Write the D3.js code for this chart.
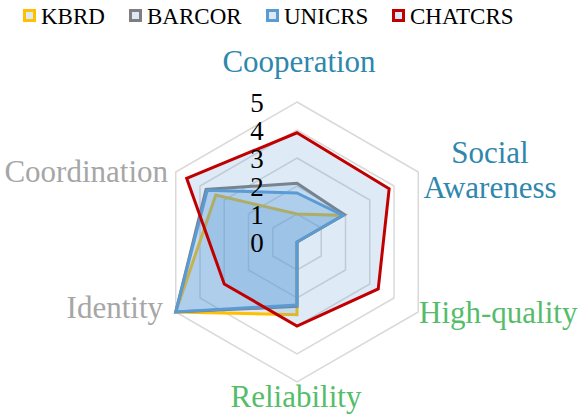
<!DOCTYPE html>
<html>
<head>
<meta charset="utf-8">
<script src="https://cdn.jsdelivr.net/npm/d3@7"></script>
<style>
  body { margin: 0; background: #fff; }
</style>
</head>
<body>
<div class="chart"></div>
<script>
var svgWidth = 581
var svgHeight = 417
var fontFamily = "Liberation Serif";

// data
var categories = ["Cooperation", "Social Awareness", "High-quality", "Reliability", "Identity", "Coordination"];
var seriesNames = ["KBRD", "BARCOR", "UNICRS", "CHATCRS"];
var kbrd = [1.0, 1.9, 0, 2.6, 5.0, 3.35];
var barcor = [2.1, 1.95, 0, 2.3, 5.0, 3.75];
var unicrs = [1.75, 1.9, 0, 2.25, 5.0, 3.7];
var chatcrs = [3.9, 3.8, 3.35, 3.0, 3.0, 4.55];
var tickValues = [0, 1, 2, 3, 4, 5];

var seriesData = [kbrd, barcor, unicrs, chatcrs];
var seriesColors = ["#ffc000", "#7f7f7f", "#5b9bd5", "#c00000"];
var labelColors = ["#2e87ad", "#2e87ad", "#55bd6a", "#55bd6a", "#a6a6a6", "#a6a6a6"];

var cx = 297, cy = 242, radius = 140;

var svg = d3.select(".chart")
    .append("svg")
    .attr("width", svgWidth)
    .attr("height", svgHeight);

svg.append("rect")
    .attr("width", svgWidth)
    .attr("height", svgHeight)
    .attr("fill", "#fff");

var chartGroup = svg.append("g")
    .attr("transform", `translate(${cx}, ${cy})`);

var rScale = d3.scaleLinear()
    .domain([0, 5])
    .range([0, radius]);

var angleScale = d3.scaleLinear()
    .domain([0, categories.length])
    .range([0, 2 * Math.PI]);

var radarLine = d3.lineRadial()
    .angle((d, i) => angleScale(i))
    .radius(d => rScale(d))
    .curve(d3.curveLinearClosed);

// grid rings
chartGroup.selectAll(".ring")
    .data(tickValues.filter(t => t > 0))
    .enter()
    .append("path")
    .attr("class", "ring")
    .attr("d", t => radarLine(categories.map(() => t)))
    .attr("fill", "none")
    .attr("stroke", "#d9d9d9")
    .attr("stroke-width", 1.5);

// series, drawn in order so later fills tint earlier lines
seriesData.forEach(function(values, k) {
    chartGroup.append("path")
        .attr("d", radarLine(values))
        .attr("fill", "#5b9bd5")
        .attr("fill-opacity", 0.2)
        .attr("stroke", seriesColors[k])
        .attr("stroke-width", 3)
        .attr("stroke-linejoin", "miter");
});

// tick labels
chartGroup.selectAll(".tick-label")
    .data(tickValues)
    .enter()
    .append("text")
    .attr("class", "tick-label")
    .attr("x", -40)
    .attr("y", t => -rScale(t))
    .attr("dy", "0.36em")
    .attr("text-anchor", "middle")
    .attr("font-family", fontFamily)
    .attr("font-size", 27)
    .attr("fill", "#000")
    .text(t => t);

// category labels
var labelPos = [
    {x: 299, y: 72, anchor: "middle", lines: ["Cooperation"]},
    {x: 490, y: 163, anchor: "middle", lines: ["Social", "Awareness"]},
    {x: 419, y: 323, anchor: "start", lines: ["High-quality"]},
    {x: 296, y: 407, anchor: "middle", lines: ["Reliability"]},
    {x: 163, y: 318, anchor: "end", lines: ["Identity"]},
    {x: 168, y: 182, anchor: "end", lines: ["Coordination"]}
];

labelPos.forEach(function(p, i) {
    var t = svg.append("text")
        .attr("x", p.x)
        .attr("y", p.y)
        .attr("text-anchor", p.anchor)
        .attr("font-family", fontFamily)
        .attr("font-size", 31)
        .attr("fill", labelColors[i]);
    p.lines.forEach(function(line, j) {
        t.append("tspan")
            .attr("x", p.x)
            .attr("dy", j === 0 ? 0 : 35)
            .text(line);
    });
});

// legend
var legendX = [23, 129, 266, 392];
var legend = svg.append("g");
seriesNames.forEach(function(name, k) {
    legend.append("rect")
        .attr("x", legendX[k] + 1.5)
        .attr("y", 10.5)
        .attr("width", 10)
        .attr("height", 10)
        .attr("fill", "#dde9f6")
        .attr("stroke", seriesColors[k])
        .attr("stroke-width", 3);
    legend.append("text")
        .attr("x", legendX[k] + 18)
        .attr("y", 23.5)
        .attr("font-family", fontFamily)
        .attr("font-size", 23)
        .attr("fill", "#000")
        .text(name);
});
</script>
</body>
</html>
